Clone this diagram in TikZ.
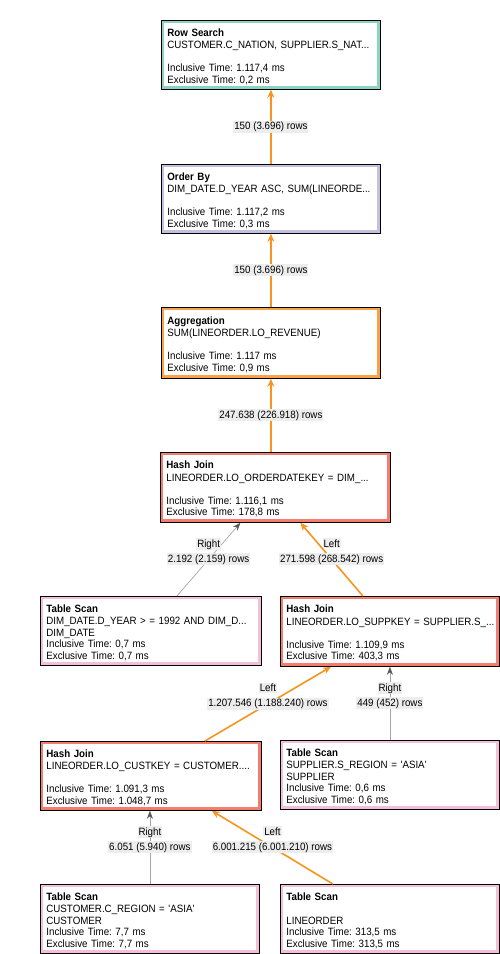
\documentclass[tikz,border=0pt]{standalone}
\usepackage{fontspec}
\setmainfont{Liberation Sans}[FakeStretch=0.92]
\usepackage{xcolor}
\usetikzlibrary{arrows.meta}

\definecolor{rowcol}{HTML}{8ED2C2}
\definecolor{ordcol}{HTML}{C2BFE0}
\definecolor{aggcol}{HTML}{F9A24A}
\definecolor{joincol}{HTML}{F47E6E}
\definecolor{scancol}{HTML}{F4BFD8}
\definecolor{flow}{HTML}{F7941D}
\definecolor{lblgray}{HTML}{EDEDED}

\newcommand{\planinfo}[5]{\rule{0pt}{11pt}\textbf{#1}\\[1pt]\mbox{#2}\\\mbox{#3}\\Inclusive Time: #4 ms\\Exclusive Time: #5 ms}
\newcommand{\rowlbl}[1]{\colorbox{lblgray}{#1}}
\setlength{\fboxsep}{1pt}
\frenchspacing

\begin{document}
\begin{tikzpicture}[x=1pt, y=-1pt,
    op/.style={shape=rectangle, draw=black, line width=0.8pt, fill=white, anchor=north west,
      minimum height=69pt, minimum width=219pt, text width=207pt, inner xsep=6pt, inner ysep=0pt,
      align=left, font=\fontsize{10.6}{11.5}\selectfont,
      path picture={\draw[line width=6pt, #1] (path picture bounding box.south west) rectangle (path picture bounding box.north east);}},
    flowline/.style={draw=flow, line width=1.6pt, -{Stealth[length=8pt, width=7pt]}},
    sideline/.style={draw=gray!70, line width=0.7pt, -{Stealth[length=8pt, width=6pt, color=black!65]}},
    lbl/.style={align=center, inner sep=0pt, font=\fontsize{10.6}{15}\selectfont}]
    \useasboundingbox[fill=white] (0,0) rectangle (500,954);

    % operators
    \node[op=rowcol] (rowsearch) at (161,20) {\planinfo{Row Search}{CUSTOMER.C\_NATION, SUPPLIER.S\_NAT...}{}{1.117,4}{0,2}};
    \node[op=ordcol] (orderby) at (161,164) {\planinfo{Order By}{DIM\_DATE.D\_YEAR ASC, SUM(LINEORDE...}{}{1.117,2}{0,3}};
    \node[op=aggcol, minimum height=71pt] (aggr) at (161,307) {\planinfo{Aggregation}{SUM(LINEORDER.LO\_REVENUE)}{}{1.117}{0,9}};
    \node[op=joincol, minimum width=230pt, text width=218pt, minimum height=70pt] (hjdate) at (160,452) {\planinfo{Hash Join}{LINEORDER.LO\_ORDERDATEKEY = DIM\_...}{}{1.116,1}{178,8}};
    \node[op=scancol, minimum width=221pt, text width=209pt] (scandate) at (40,596) {\planinfo{Table Scan}{DIM\_DATE.D\_YEAR > = 1992 AND DIM\_D...}{DIM\_DATE}{0,7}{0,7}};
    \node[op=joincol, minimum height=70pt] (hjsupp) at (280,596) {\planinfo{Hash Join}{LINEORDER.LO\_SUPPKEY = SUPPLIER.S\_...}{}{1.109,9}{403,3}};
    \node[op=joincol, minimum width=221pt, text width=209pt] (hjcust) at (40,741) {\planinfo{Hash Join}{LINEORDER.LO\_CUSTKEY = CUSTOMER....}{}{1.091,3}{1.048,7}};
    \node[op=scancol] (scansupp) at (280,740) {\planinfo{Table Scan}{SUPPLIER.S\_REGION = \textquotesingle{}ASIA\textquotesingle}{SUPPLIER}{0,6}{0,6}};
    \node[op=scancol] (scancust) at (40,884) {\planinfo{Table Scan}{CUSTOMER.C\_REGION = \textquotesingle{}ASIA\textquotesingle}{CUSTOMER}{7,7}{7,7}};
    \node[op=scancol] (scanline) at (280,884) {\planinfo{Table Scan}{}{LINEORDER}{313,5}{313,5}};

    % row flows
    \draw[flowline] (orderby.north) -- (orderby.north |- rowsearch.south) node[midway, lbl] {\rowlbl{150 (3.696) rows}};
    \draw[flowline] (aggr.north) -- (aggr.north |- orderby.south) node[midway, lbl] {\rowlbl{150 (3.696) rows}};
    \draw[flowline] (hjdate.north -| aggr.north) -- (aggr.south) node[midway, lbl] {\rowlbl{247.638 (226.918) rows}};
    \draw[sideline] ([xshift=26pt]scandate.north) -- ([xshift=-35pt]hjdate.south) node[midway, lbl, yshift=7.5pt] {\rowlbl{Right}\\\rowlbl{2.192 (2.159) rows}};
    \draw[flowline] ([xshift=-27pt]hjsupp.north) -- ([xshift=25pt]hjdate.south) node[midway, lbl, yshift=7.5pt] {\rowlbl{Left}\\\rowlbl{271.598 (268.542) rows}};
    \draw[flowline] ([xshift=54pt]hjcust.north) -- ([xshift=-59pt]hjsupp.south) node[midway, lbl, yshift=7.5pt] {\rowlbl{Left}\\\rowlbl{1.207.546 (1.188.240) rows}};
    \draw[sideline] (scansupp.north) -- (scansupp.north |- hjsupp.south) node[midway, lbl, yshift=7.5pt] {\rowlbl{Right}\\\rowlbl{449 (452) rows}};
    \draw[sideline] (scancust.north) -- (scancust.north |- hjcust.south) node[midway, lbl, yshift=7.5pt] {\rowlbl{Right}\\\rowlbl{6.051 (5.940) rows}};
    \draw[flowline] ([xshift=-57pt]scanline.north) -- ([xshift=61pt]hjcust.south) node[midway, lbl, yshift=7.5pt] {\rowlbl{Left}\\\rowlbl{6.001.215 (6.001.210) rows}};
  \end{tikzpicture}
\end{document}
